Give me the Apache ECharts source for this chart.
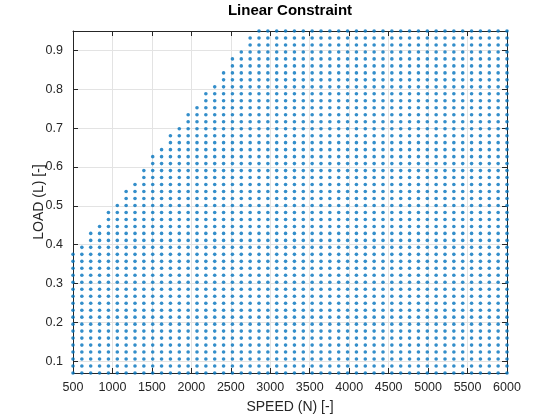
<!DOCTYPE html>
<html>
<head>
<meta charset="utf-8">
<script src="https://cdn.jsdelivr.net/npm/echarts@6/dist/echarts.min.js"></script>
<style>
html,body{margin:0;padding:0;background:#fff;}
#chart{width:560px;height:420px;}
</style>
</head>
<body>
<div id="chart"></div>
<script>
// Grid of speed values (N) — 50 columns
var speeds = [500, 612.24, 724.49, 836.73, 948.98, 1061.22, 1173.47, 1285.71, 1397.96, 1510.20,
  1622.45, 1734.69, 1846.94, 1959.18, 2071.43, 2183.67, 2295.92, 2408.16, 2520.41, 2632.65,
  2744.90, 2857.14, 2969.39, 3081.63, 3193.88, 3306.12, 3418.37, 3530.61, 3642.86, 3755.10,
  3867.35, 3979.59, 4091.84, 4204.08, 4316.33, 4428.57, 4540.82, 4653.06, 4765.31, 4877.55,
  4989.80, 5102.04, 5214.29, 5326.53, 5438.78, 5551.02, 5663.27, 5775.51, 5887.76, 6000];

// Grid of load values (L) — 50 rows
var loads = [0.0700, 0.0880, 0.1059, 0.1239, 0.1418, 0.1598, 0.1778, 0.1957, 0.2137, 0.2316,
  0.2496, 0.2676, 0.2855, 0.3035, 0.3214, 0.3394, 0.3573, 0.3753, 0.3933, 0.4112,
  0.4292, 0.4471, 0.4651, 0.4831, 0.5010, 0.5190, 0.5369, 0.5549, 0.5729, 0.5908,
  0.6088, 0.6267, 0.6447, 0.6627, 0.6806, 0.6986, 0.7165, 0.7345, 0.7524, 0.7704,
  0.7884, 0.8063, 0.8243, 0.8422, 0.8602, 0.8782, 0.8961, 0.9141, 0.9320, 0.9500];

// Highest admissible load row index for each speed column
var topRow = [17, 18, 20, 21, 23, 24, 26, 27, 29, 31,
  32, 34, 35, 37, 38, 40, 41, 43, 45, 46,
  48, 49, 49, 49, 49, 49, 49, 49, 49, 49,
  49, 49, 49, 49, 49, 49, 49, 49, 49, 49,
  49, 49, 49, 49, 49, 49, 49, 49, 49, 49];

var xTicks = [500, 1000, 1500, 2000, 2500, 3000, 3500, 4000, 4500, 5000, 5500, 6000];
var yTicks = [0.1, 0.2, 0.3, 0.4, 0.5, 0.6, 0.7, 0.8, 0.9];

var titleText = 'Linear Constraint';
var xName = 'SPEED (N) [-]';
var yName = 'LOAD (L) [-]';

var points = [];
for (var i = 0; i < speeds.length; i++) {
  for (var j = 0; j <= topRow[i]; j++) {
    points.push([speeds[i], loads[j]]);
  }
}

var axisColor = '#262626';
var gridColor = '#e3e3e3';
var fontFam = '"Liberation Sans", Arial, Helvetica, sans-serif';

var xMin = xTicks[0], xMax = xTicks[xTicks.length - 1];
var yMin = loads[0], yMax = loads[loads.length - 1];

function xAxisCfg(pos, main) {
  return {
    type: 'value', position: pos, min: xMin, max: xMax, interval: xTicks[1] - xTicks[0],
    name: main ? xName : '', nameLocation: 'middle', nameGap: 27, nameMoveOverlap: false,
    nameTextStyle: {color: axisColor, fontSize: 14, fontFamily: fontFam},
    axisLine: {show: true, onZero: false, lineStyle: {color: axisColor, width: 1}},
    axisTick: {show: true, inside: true, length: 5, lineStyle: {color: axisColor}},
    axisLabel: {show: main, color: axisColor, fontSize: 12.5, fontFamily: fontFam, margin: 8,
      formatter: function (v) { return String(Math.round(v)); }},
    splitLine: {show: main, lineStyle: {color: gridColor, width: 1}}
  };
}
function yAxisCfg(pos, main) {
  return {
    type: 'value', position: pos, min: yMin, max: yMax, splitNumber: yTicks.length,
    name: main ? yName : '', nameLocation: 'middle', nameGap: 27, nameMoveOverlap: false,
    nameTextStyle: {color: axisColor, fontSize: 14, fontFamily: fontFam},
    axisLine: {show: true, onZero: false, lineStyle: {color: axisColor, width: 1}},
    axisTick: {show: true, inside: true, length: 5, lineStyle: {color: axisColor}},
    axisLabel: {show: main, color: axisColor, fontSize: 12.5, fontFamily: fontFam, margin: 10,
      showMinLabel: false, showMaxLabel: false,
      formatter: function (v) { return (Math.round(v * 10) / 10).toFixed(1); }},
    splitLine: {show: main, lineStyle: {color: gridColor, width: 1}}
  };
}

var chart = echarts.init(document.getElementById('chart'), null, {renderer: 'canvas'});
chart.setOption({
  animation: false,
  backgroundColor: '#ffffff',
  title: {
    text: titleText, left: 290, top: 3, padding: 0, textAlign: 'center',
    textStyle: {fontSize: 15, fontWeight: 'bold', color: '#000', fontFamily: fontFam}
  },
  grid: {left: 73, right: 53, top: 31, bottom: 47, containLabel: false},
  xAxis: [xAxisCfg('bottom', true), xAxisCfg('top', false)],
  yAxis: [yAxisCfg('left', true), yAxisCfg('right', false)],
  series: [{
    type: 'scatter', xAxisIndex: 0, yAxisIndex: 0,
    data: points, symbol: 'circle', symbolSize: 3.6,
    itemStyle: {color: '#0072BD'}, clip: false, progressive: 0, large: false
  }]
});
</script>
</body>
</html>
